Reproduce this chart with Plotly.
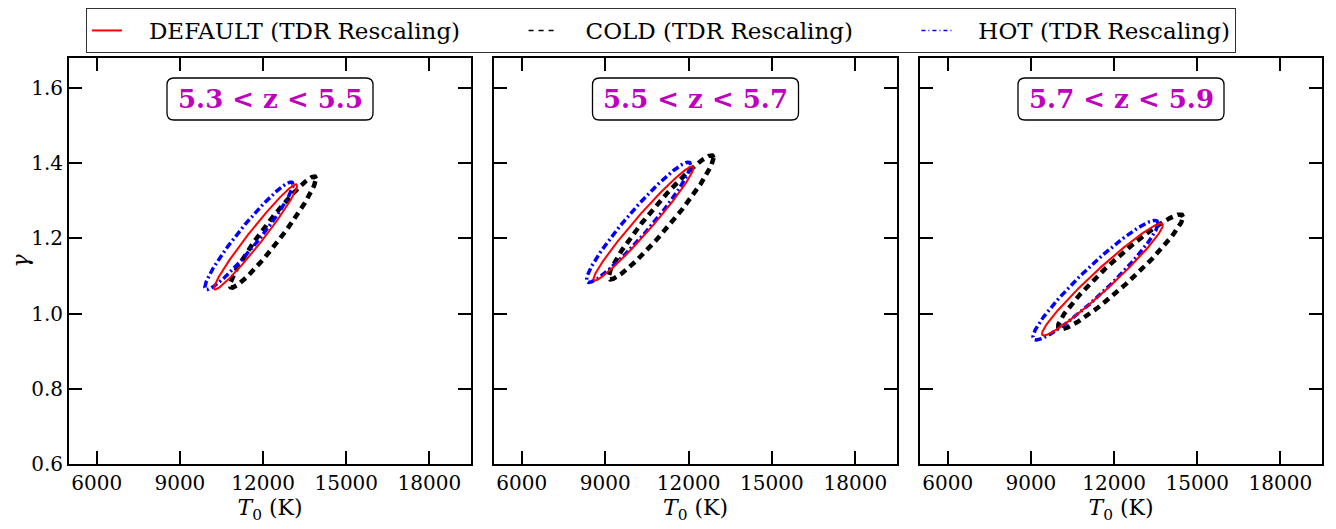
import numpy as np
import plotly.graph_objects as go

# redshift bins (one panel each)
z_bins = ["5.3 < z < 5.5", "5.5 < z < 5.7", "5.7 < z < 5.9"]

# 1-sigma contours in the (T0, gamma) plane:
# centre, half extent along each axis and correlation
default_t0 = [11730, 10380, 11580]
default_gamma = [1.204, 1.240, 1.091]
default_dt0 = [1500, 1800, 2180]
default_dgamma = [0.140, 0.152, 0.149]
default_rho = [0.975, 0.975, 0.970]

cold_t0 = [12360, 11010, 12230]
cold_gamma = [1.217, 1.256, 1.111]
cold_dt0 = [1550, 1890, 2255]
cold_dgamma = [0.148, 0.165, 0.153]
cold_rho = [0.960, 0.960, 0.955]

hot_t0 = [11490, 10200, 11330]
hot_gamma = [1.207, 1.243, 1.089]
hot_dt0 = [1590, 1875, 2255]
hot_dgamma = [0.143, 0.160, 0.159]
hot_rho = [0.955, 0.955, 0.950]

x_ticks = [6000, 9000, 12000, 15000, 18000]
y_ticks = [0.6, 0.8, 1.0, 1.2, 1.4, 1.6]

FONT = "DejaVu Serif"

# the page puts the figure 8px in from the window corner
OFF = 8
W, H = 1336 - OFF, 529 - OFF


def px(x):
    return (x - OFF) / W


def py(y):
    return 1 - (y - OFF) / H


def ellipse(cx, cy, hx, hy, rho, n=400):
    t = np.linspace(0, 2 * np.pi, n)
    phi = np.arccos(rho)
    return cx + hx * np.cos(t), cy + hy * np.cos(t - phi)


def rounded_box(x0, x1, y0, y1, rx, ry):
    # rounded rectangle path in (x domain, paper) units
    return ("M%f,%f L%f,%f Q%f,%f %f,%f L%f,%f Q%f,%f %f,%f L%f,%f Q%f,%f %f,%f L%f,%f Q%f,%f %f,%f Z" % (
        x0 + rx, y0, x1 - rx, y0, x1, y0, x1, y0 + ry, x1, y1 - ry, x1, y1, x1 - rx, y1,
        x0 + rx, y1, x0, y1, x0, y1 - ry, x0, y0 + ry, x0, y0, x0 + rx, y0))


models = [
    # name, centres, widths, rho, line style on the plot, line style in the legend
    ("COLD (TDR Rescaling)", cold_t0, cold_gamma, cold_dt0, cold_dgamma, cold_rho,
     dict(color="black", width=4.5, dash="7px,5px"), dict(color="black", width=1.5, dash="5px,5px")),
    ("HOT (TDR Rescaling)", hot_t0, hot_gamma, hot_dt0, hot_dgamma, hot_rho,
     dict(color="blue", width=3.5, dash="7px,3px,2px,3px"), dict(color="blue", width=1.5, dash="4px,3px,1px,3px")),
    ("DEFAULT (TDR Rescaling)", default_t0, default_gamma, default_dt0, default_dgamma, default_rho,
     dict(color="red", width=2), dict(color="red", width=2)),
]

x_dom = [(px(69), px(471)), (px(494), px(897)), (px(920), px(1322))]
y_dom = (py(464), py(58))

fig = go.Figure()

# legend entries (thin lines like the reference legend)
gap = "\u00a0" * 3
pad = "\u00a0" * 8
legend_order = ["DEFAULT (TDR Rescaling)", "COLD (TDR Rescaling)", "HOT (TDR Rescaling)"]
for k, lname in enumerate(legend_order):
    m = [mm for mm in models if mm[0] == lname][0]
    fig.add_trace(go.Scatter(
        x=[None], y=[None], mode="lines", line=m[7],
        name=gap + lname + (pad if k < 2 else ""), showlegend=True,
        xaxis="x", yaxis="y",
    ))

for i in range(3):
    xa = "x" if i == 0 else "x%d" % (i + 1)
    ya = "y" if i == 0 else "y%d" % (i + 1)
    for name, t0, g, dt0, dg, rho, style, _ in models:
        ex, ey = ellipse(t0[i], g[i], dt0[i], dg[i], rho[i])
        fig.add_trace(go.Scatter(
            x=ex, y=ey, mode="lines", line=style, name=name,
            showlegend=False, xaxis=xa, yaxis=ya, hoverinfo="skip",
        ))
    xdref = "x domain" if i == 0 else "x%d domain" % (i + 1)
    pw = (x_dom[i][1] - x_dom[i][0]) * W
    bx0, bx1 = 0.5 - 103 / pw, 0.5 + 103 / pw
    fig.add_shape(
        type="path", xref=xdref, yref="paper",
        path=rounded_box(bx0, bx1, py(120), py(78), 7 / pw, 7 / H),
        line=dict(color="black", width=1.3), fillcolor="white", layer="above",
    )
    fig.add_annotation(
        text="<b>%s</b>" % z_bins[i].replace("<", "&lt;"),
        xref=xdref, x=0.5, yref="paper", y=py(99), yanchor="middle", showarrow=False,
        font=dict(family=FONT, size=26, color="#bf00bf"),
    )

axis_common = dict(
    showline=True, linecolor="black", linewidth=2, mirror="allticks",
    ticks="inside", ticklen=13, tickwidth=2, tickcolor="black",
    showgrid=False, zeroline=False, automargin=False,
    tickfont=dict(family=FONT, size=20, color="black"),
)

layout = dict(
    width=W, height=H,
    margin=dict(l=0, r=0, t=0, b=0, autoexpand=False),
    plot_bgcolor="white", paper_bgcolor="white",
    font=dict(family=FONT, color="black"),
    legend=dict(
        orientation="h", x=px(86), xanchor="left", y=1, yanchor="top",
        bgcolor="white", bordercolor="#333", borderwidth=1,
        font=dict(family=FONT, size=23, color="black"),
        tracegroupgap=0,
    ),
)
for i in range(3):
    xk = "xaxis" if i == 0 else "xaxis%d" % (i + 1)
    yk = "yaxis" if i == 0 else "yaxis%d" % (i + 1)
    layout[xk] = dict(
        axis_common, domain=x_dom[i], range=[5000, 19500],
        tickvals=x_ticks, ticktext=[str(v) for v in x_ticks],
        anchor="y" if i == 0 else "y%d" % (i + 1),
        title=dict(text="<i>T</i><sub>0</sub> (K)", font=dict(family=FONT, size=22), standoff=2),
    )
    layout[yk] = dict(
        axis_common, domain=y_dom, range=[0.6, 1.68],
        tickvals=y_ticks, ticktext=["%.1f" % v for v in y_ticks],
        showticklabels=(i == 0),
        anchor="x" if i == 0 else "x%d" % (i + 1),
        title=dict(text="<i>γ</i>" if i == 0 else "", font=dict(family=FONT, size=22), standoff=15),
    )

fig.update_layout(**layout)
fig.write_html("out.html")
